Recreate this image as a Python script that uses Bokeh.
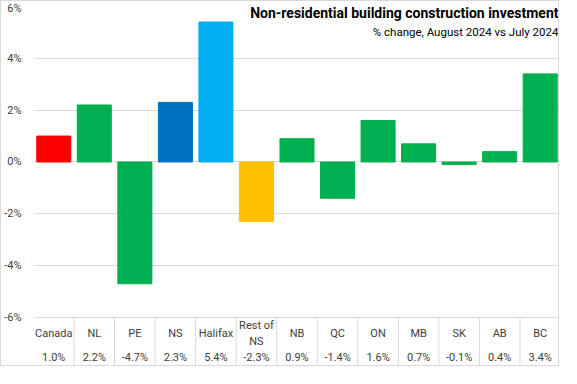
from bokeh.plotting import figure
from bokeh.models import FactorRange, Range1d, FixedTicker, PrintfTickFormatter, ColumnDataSource, Label
from bokeh.transform import dodge
from bokeh.core.properties import value
from bokeh.embed import file_html
from bokeh.resources import INLINE

categories = ["Canada", "NL", "PE", "NS", "Halifax", "Rest of\nNS", "NB", "QC", "ON", "MB", "SK", "AB", "BC"]
values = [1.0, 2.2, -4.7, 2.3, 5.4, -2.3, 0.9, -1.4, 1.6, 0.7, -0.1, 0.4, 3.4]
value_labels = ["1.0%", "2.2%", "-4.7%", "2.3%", "5.4%", "-2.3%", "0.9%", "-1.4%", "1.6%", "0.7%", "-0.1%", "0.4%", "3.4%"]
bar_colors = ["#FF0000", "#00B050", "#00B050", "#0070C0", "#00B0F0", "#FFC000",
              "#00B050", "#00B050", "#00B050", "#00B050", "#00B050", "#00B050", "#00B050"]
y_ticks = [-6, -4, -2, 0, 2, 4, 6]
title_text = "Non-residential building construction investment"
subtitle_text = "% change, August 2024 vs July 2024"

LABEL_FONT = "Roboto"
TEXT_COLOR = "#404040"
GRID = "#D9D9D9"

src = ColumnDataSource(dict(cat=categories, val=values, lab=value_labels, color=bar_colors,
                            cat_y=[-6.62] * len(categories), val_y=[-7.55] * len(categories)))
sep = ColumnDataSource(dict(cat=categories[1:], y0=[-6.0] * 12, y1=[-8.0] * 12))

p = figure(width=559, height=366, x_range=FactorRange(*categories, range_padding=0),
           y_range=Range1d(-7.93, 6.0), output_backend="svg", toolbar_location=None,
           min_border_left=24, min_border_right=0, min_border_top=5, min_border_bottom=0,
           styles={"border": "1px solid #D9D9D9"})

p.outline_line_color = None
p.background_fill_color = "white"
p.border_fill_color = "white"

p.xaxis.visible = False
p.xgrid.visible = False

p.yaxis.ticker = FixedTicker(ticks=y_ticks)
p.yaxis.formatter = PrintfTickFormatter(format="%d%%")
p.yaxis.axis_line_color = None
p.yaxis.major_tick_line_color = None
p.yaxis.minor_tick_line_color = None
p.yaxis.major_label_standoff = 6
p.yaxis.major_label_text_font = LABEL_FONT
p.yaxis.major_label_text_font_size = "11px"
p.yaxis.major_label_text_color = TEXT_COLOR
p.ygrid.ticker = FixedTicker(ticks=y_ticks)
p.ygrid.grid_line_color = GRID

p.vbar(x="cat", top="val", bottom=0, width=0.84, color="color", source=src)

p.segment(x0=dodge("cat", -0.5, range=p.x_range), x1=dodge("cat", -0.5, range=p.x_range),
          y0="y0", y1="y1", line_color=GRID, line_width=1, source=sep)

p.text(x="cat", y="cat_y", text="cat", source=src, text_align="center", text_baseline="middle",
       text_font=value(LABEL_FONT), text_font_size="11px", text_color=TEXT_COLOR, text_line_height=1.3)
p.text(x="cat", y="val_y", text="lab", source=src, text_align="center", text_baseline="middle",
       text_font=value(LABEL_FONT), text_font_size="11px", text_color=TEXT_COLOR)

p.add_layout(Label(x=12.95, y=5.76, text=title_text, text_align="right", text_baseline="middle",
                   text_font=LABEL_FONT, text_font_style="bold", text_font_size="14px", text_color="#000000"))
p.add_layout(Label(x=12.95, y=5.02, text=subtitle_text, text_align="right", text_baseline="middle",
                   text_font=LABEL_FONT, text_font_size="11.5px", text_color="#000000"))

open("out.html", "w").write(file_html(p, INLINE))
